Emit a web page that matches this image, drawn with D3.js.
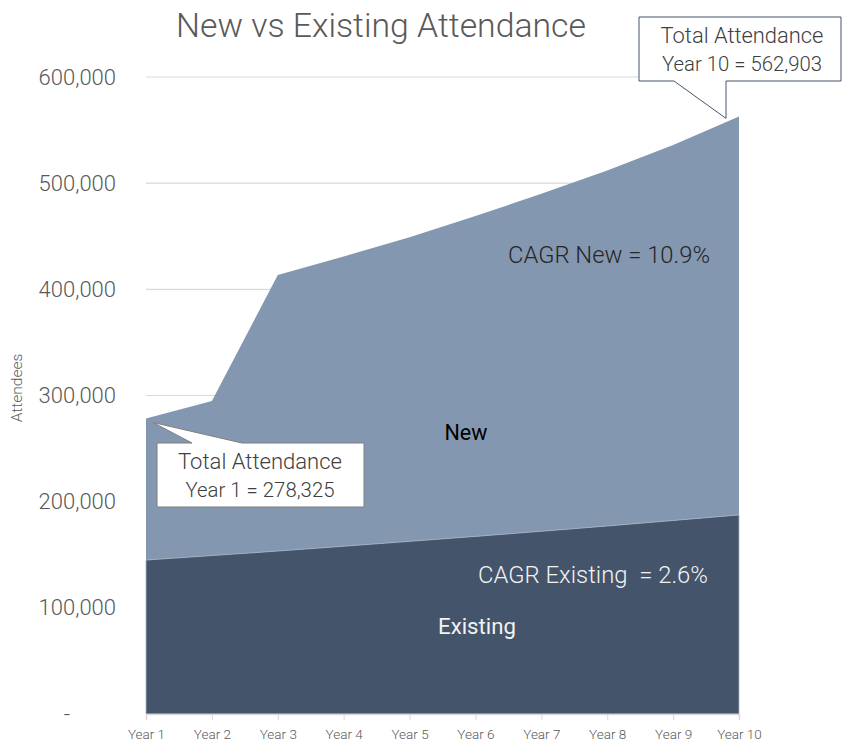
<!DOCTYPE html>
<html><head><meta charset="utf-8">
<script src="https://cdn.jsdelivr.net/npm/d3@7/dist/d3.min.js"></script>
<style>
html,body{margin:0;padding:0;background:#fff;}
svg{display:block;font-family:Roboto,Lato,sans-serif;}
</style></head>
<body><svg id="c" width="842" height="742"></svg>
<script>
const years = ["Year 1","Year 2","Year 3","Year 4","Year 5","Year 6","Year 7","Year 8","Year 9","Year 10"];
const existingAttendees = [145000,149200,153500,158000,162600,167300,172100,177100,182300,187500];
const newAttendees = [133325,145600,260000,273000,286400,301700,317900,334900,353700,375403];
const yTicks = [0,100000,200000,300000,400000,500000,600000];
const title = "New vs Existing Attendance";

const FONT = "Roboto, Lato, sans-serif";
const svg = d3.select("#c");
const x = d3.scalePoint().domain(years).range([146,739]);
const y = d3.scaleLinear().domain([0,600000]).range([714,77]);

const rows = years.map((yr,i)=>({year:yr, Existing:existingAttendees[i], New:newAttendees[i]}));
const stack = d3.stack().keys(["Existing","New"])(rows);
const colors = {Existing:"#44546A", New:"#8497B0"};

function fit(sel, target){
  const base = parseFloat(sel.attr("font-size"));
  const w = sel.node().getComputedTextLength();
  sel.attr("font-size", (base*target/w).toFixed(2));
  return sel;
}

// gridlines
svg.append("g").selectAll("line").data(yTicks.filter(d=>d>0)).join("line")
  .attr("x1",146).attr("x2",739).attr("y1",d=>y(d)).attr("y2",d=>y(d))
  .attr("stroke","#d9d9d9").attr("stroke-width",1.2);

// areas
const area = d3.area().x(d=>x(d.data.year)).y0(d=>y(d[0])).y1(d=>y(d[1]));
svg.append("g").selectAll("path").data(stack.slice().reverse()).join("path")
  .attr("d",area).attr("fill",d=>colors[d.key])
  .attr("stroke",d=>d.key==="Existing"?"#a9b6c8":"none").attr("stroke-width",0.8);

// x axis
const xa = svg.append("g").attr("transform","translate(0,714)")
  .call(d3.axisBottom(x).tickSize(6).tickPadding(9));
xa.select(".domain").attr("stroke","#d9d9d9").attr("stroke-width",1.5);
xa.selectAll(".tick line").attr("stroke","#d9d9d9");
xa.selectAll("text").attr("font-size",13.5).attr("fill","#595959").attr("font-weight",300)
  .attr("font-family",FONT);

// y axis labels
const fmt = d3.format(",");
const ya = svg.append("g").attr("transform","translate(116,0)")
  .call(d3.axisLeft(y).tickValues(yTicks).tickSize(0).tickPadding(0).tickFormat(d=>d===0?"-":fmt(d)));
ya.select(".domain").remove();
ya.selectAll("text").attr("font-size",22).attr("fill","#595959").attr("font-weight",300)
  .attr("font-family",FONT);
ya.selectAll(".tick").filter(d=>d===0).select("text").attr("dx",-46);

// y title
svg.append("text").attr("transform","translate(22,388) rotate(-90)")
  .attr("text-anchor","middle").attr("font-size",15.5).attr("font-weight",300)
  .attr("fill","#595959").text("Attendees");

// title
fit(svg.append("text").attr("x",381).attr("y",37).attr("text-anchor","middle")
  .attr("font-size",32).attr("font-weight",300).attr("fill","#595959").text(title),410);

// callout Year 10
const t10x = x("Year 10")-13, t10y = y(newAttendees[9]+existingAttendees[9])+2;
svg.append("path").attr("d",`M639,17H841V81H${t10x}V${t10y}L674,81H639Z`)
  .attr("fill","#fff").attr("stroke","#44546A").attr("stroke-width",1);
fit(svg.append("text").attr("x",742).attr("y",43).attr("text-anchor","middle")
  .attr("font-size",20).attr("font-weight",300).attr("fill","#404040").text("Total Attendance"),163);
fit(svg.append("text").attr("x",742).attr("y",71).attr("text-anchor","middle")
  .attr("font-size",20).attr("font-weight",300).attr("fill","#404040").text("Year 10 = 562,903"),160);

// callout Year 1
const t1x = x("Year 1")+7, t1y = y(newAttendees[0]+existingAttendees[0])+4;
svg.append("path").attr("d",`M157,443H192L${t1x},${t1y}L242,443H364V507H157Z`)
  .attr("fill","#fff").attr("stroke","#7f7f7f").attr("stroke-width",1);
fit(svg.append("text").attr("x",260).attr("y",469).attr("text-anchor","middle")
  .attr("font-size",20).attr("font-weight",300).attr("fill","#404040").text("Total Attendance"),164);
fit(svg.append("text").attr("x",260).attr("y",497).attr("text-anchor","middle")
  .attr("font-size",20).attr("font-weight",300).attr("fill","#404040").text("Year 1 = 278,325"),149);

// labels
fit(svg.append("text").attr("x",609).attr("y",263).attr("text-anchor","middle")
  .attr("font-size",22).attr("font-weight",300).attr("fill","#262626").text("CAGR New = 10.9%"),202);
fit(svg.append("text").attr("x",466).attr("y",440).attr("text-anchor","middle")
  .attr("font-size",18).attr("font-weight",400).attr("fill","#000").text("New"),43);
fit(svg.append("text").attr("x",593).attr("y",583).attr("text-anchor","middle")
  .attr("font-size",22).attr("font-weight",300).attr("fill","#f2f2f2")
  .style("white-space","pre").text("CAGR Existing  = 2.6%"),230);
fit(svg.append("text").attr("x",477).attr("y",634).attr("text-anchor","middle")
  .attr("font-size",19).attr("font-weight",400).attr("fill","#f2f2f2").text("Existing"),78);
</script></body></html>
